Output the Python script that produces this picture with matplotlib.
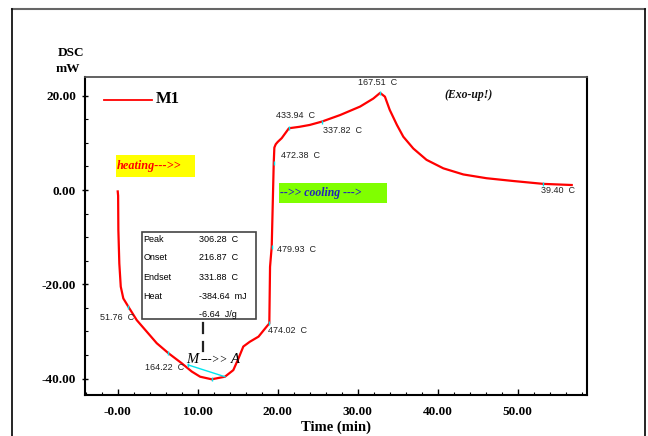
import matplotlib
matplotlib.use("Agg")
import matplotlib.pyplot as plt
from matplotlib.lines import Line2D
from matplotlib.patches import Rectangle

# ---- data ----
time_min = [0.0, 0.05, 0.08, 0.2, 0.38, 0.7, 1.33, 2.38, 3.63, 4.88, 6.33, 8.0, 9.25,
            10.3, 11.75, 13.4, 14.45, 15.1, 15.7, 16.5, 17.6, 18.6, 18.95, 19.04,
            19.25, 19.45, 19.5, 19.58, 19.75, 20.0, 20.5, 21.1, 21.4, 22.7, 24.0, 25.5,
            27.8, 30.3, 31.95, 32.8, 33.4, 34.0, 34.9, 35.7, 36.95, 38.6, 40.7,
            43.2, 46.1, 49.5, 53.2, 56.75]
dsc_mw = [-0.3, -1.2, -8.5, -15.6, -20.5, -23.0, -24.75, -27.6, -30.05, -32.5, -34.6,
          -36.75, -38.5, -39.6, -40.15, -39.6, -38.2, -35.7, -33.2, -32.2, -31.1, -29.0,
          -28.3, -16.3, -12.0, 2.1, 5.7, 9.0, 9.7, 10.2, 11.0, 12.4, 13.1, 13.4, 13.8, 14.5,
          15.9, 17.7, 19.4, 20.6, 19.8, 17.0, 13.8, 11.3, 8.8, 6.4, 4.6, 3.3, 2.5,
          1.9, 1.3, 1.06]

marker_t = [1.33, 6.33, 8.8, 11.75, 18.95, 19.25, 19.5, 21.4, 25.5, 32.8, 53.2]
marker_v = [-24.75, -34.6, -37.1, -40.15, -28.3, -12.0, 5.7, 13.1, 14.5, 20.6, 1.3]
baseline_t = [8.8, 13.4]
baseline_v = [-37.1, -39.6]

point_labels = ["167.51  C", "433.94  C", "337.82  C", "472.38  C", "479.93  C",
                "474.02  C", "51.76  C", "164.22  C", "39.40  C"]
label_t = [30.0, 19.8, 25.7, 20.4, 19.9, 18.8, -2.2, 3.4, 52.9]
label_v = [22.9, 15.9, 12.7, 7.4, -12.7, -29.9, -27.1, -37.7, 0.0]

box_keys = ["Peak", "Onset", "Endset", "Heat", ""]
box_vals = ["306.28  C", "216.87  C", "331.88  C", "-384.64  mJ", "-6.64  J/g"]

x_ticks = [0, 10, 20, 30, 40, 50]
x_ticklabels = ["-0.00", "10.00", "20.00", "30.00", "40.00", "50.00"]
y_ticks = [-40, -20, 0, 20]
y_ticklabels = ["-40.00", "-20.00", "0.00", "20.00"]

# ---- figure ----
W, H = 648, 436
fig = plt.figure(figsize=(W / 100, H / 100), dpi=100)
ax = fig.add_axes([85 / W, 1 - 395 / H, (587 - 85) / W, (395 - 77) / H])
ax.set_xlim(-4.09, 58.66)
ax.set_ylim(-43.48, 23.97)

serif = "Liberation Serif"
sans = "Liberation Sans"

ax.plot(time_min, dsc_mw, color="#ff0000", lw=1.6, zorder=3, solid_joinstyle="round")
ax.plot(baseline_t, baseline_v, color="#00e5ee", lw=1.0, zorder=4)
ax.plot(marker_t, marker_v, ls="none", marker="|", ms=3, mew=1.0, color="#00e5ee", zorder=4)

for s, t, v in zip(point_labels, label_t, label_v):
    ax.text(t, v, s, fontsize=6.5, family=sans, color="#222222", ha="left", va="center")

# legend-like line and label
ax.plot([-1.7, 4.3], [19.1, 19.1], color="#ff0000", lw=1.3)
ax.text(4.8, 19.2, "M1", family=serif, fontweight="bold", fontsize=12, va="center", ha="left")
ax.text(40.9, 20.2, "(Exo-up!)", family=serif, fontweight="bold", style="italic",
        fontsize=8.5, va="center", ha="left", color="#111111")

# heating / cooling boxes
ax.add_patch(Rectangle((-0.2, 2.76), 9.86, 4.64, facecolor="#ffff00", edgecolor="none", zorder=2))
ax.text(-0.15, 5.1, "heating--->>", family=serif, fontweight="bold", style="italic",
        fontsize=8.8, color="#ff0000", va="center", ha="left", zorder=3)
ax.add_patch(Rectangle((20.2, -2.76), 13.5, 4.26, facecolor="#80ff00", edgecolor="none", zorder=2))
ax.text(20.25, -0.6, "-->> cooling --->", family=serif, fontweight="bold", style="italic",
        fontsize=8.5, color="#2222bb", va="center", ha="left", zorder=3)

# info box
ax.add_patch(Rectangle((3.0, -27.4), 14.25, 18.55, facecolor="white", edgecolor="#444444",
                       lw=1.2, zorder=5))
rows_v = [-10.6, -14.4, -18.5, -22.5, -26.3]
for k, val, v in zip(box_keys, box_vals, rows_v):
    ax.text(3.2, v, k, fontsize=6.5, family=sans, va="center", ha="left", zorder=6)
    ax.text(10.2, v, val, fontsize=6.5, family=sans, va="center", ha="left", zorder=6)

ax.plot([10.6, 10.6], [-28.3, -30.4], color="#222222", lw=1.6)
ax.plot([10.6, 10.6], [-32.2, -34.1], color="#222222", lw=1.6)
ax.text(8.6, -36.0, "M", family=serif, style="italic", fontsize=10.5, va="center", ha="left")
ax.text(10.3, -36.0, "--->>", family=serif, style="italic", fontsize=8.5, va="center", ha="left")
ax.text(14.1, -36.0, "A", family=serif, style="italic", fontsize=10.5, va="center", ha="left")

# axes styling
ax.set_xticks(x_ticks)
ax.set_xticklabels(x_ticklabels)
ax.set_yticks(y_ticks)
ax.set_yticklabels(y_ticklabels)
ax.set_xticks([x for x in range(-4, 59, 2)], minor=True)
ax.set_yticks([y for y in range(-40, 21, 5)], minor=True)
for lab in ax.get_xticklabels() + ax.get_yticklabels():
    lab.set_family(serif)
    lab.set_fontweight("bold")
    lab.set_fontsize(9.5)
ax.tick_params(axis="x", which="major", direction="in", length=4, width=1, pad=8)
ax.tick_params(axis="x", which="minor", direction="in", length=2.5, width=0.8)
ax.tick_params(axis="y", which="major", direction="inout", length=5, width=1, pad=4)
ax.tick_params(axis="y", which="minor", direction="in", length=2.5, width=0.8)
ax.spines["top"].set_color("#555555")
ax.spines["top"].set_linewidth(1.3)
for s in ["left", "bottom", "right"]:
    ax.spines[s].set_color("black")
    ax.spines[s].set_linewidth(1.5)

ax.set_xlabel("Time (min)", family=serif, fontweight="bold", fontsize=10.5, labelpad=2)
fig.text(71 / W, 1 - 52.7 / H, "DSC", family=serif, fontweight="bold", fontsize=9.5,
         ha="center", va="center")
fig.text(68 / W, 1 - 69 / H, "mW", family=serif, fontweight="bold", fontsize=9.5,
         ha="center", va="center")

# outer page frame
fig.add_artist(Line2D([12 / W, 645 / W], [1 - 9 / H, 1 - 9 / H], color="#666666", lw=1.5))
fig.add_artist(Line2D([12 / W, 12 / W], [0, 1 - 9 / H], color="black", lw=1.2))
fig.add_artist(Line2D([645 / W, 645 / W], [0, 1 - 9 / H], color="black", lw=1.2))

fig.savefig("out.png", dpi=100)
